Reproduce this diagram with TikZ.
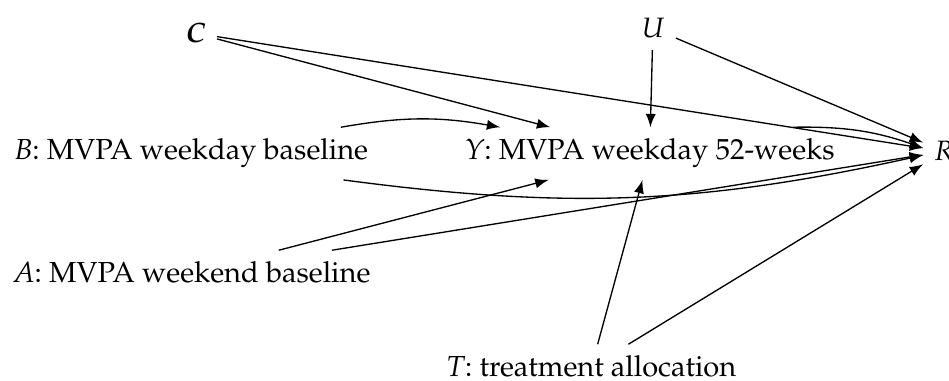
\documentclass[tikz,border=0pt]{standalone}
\usepackage[T1]{fontenc}
\usepackage{mathpazo}
\begin{document}
\begin{tikzpicture}[x=0.3pt,y=-0.3pt,
  lab/.style={font=\fontsize{8.7}{11}\selectfont, anchor=base west, inner sep=0.3333em},
  var/.style={font=\fontsize{8.4}{10}\selectfont, anchor=base west, inner sep=0.3333em},
  arr/.style={-latex}]
\useasboundingbox (0,0) rectangle (949,381);
\node[var] (C) at (174,43) {\textbf{\textit{C}}};
\node[var] (U) at (630,38) {\textit{U}};
\node[var] (R) at (923,161) {\textit{R}};
\node[lab] (B) at (3,160) {\textit{B}: MVPA weekday baseline};
\node[lab] (Y) at (453,160) {\textit{Y}: MVPA weekday 52-weeks};
\node[lab] (A) at (2,283) {\textit{A}: MVPA weekend baseline};
\node[lab] (T) at (435,377) {\textit{T}: treatment allocation};
\draw[arr] (C) -- (Y);
\draw[arr] (C) -- (R);
\draw[arr] (U) -- (Y);
\draw[arr] (U) -- (R);
\draw[arr] (B) to[bend left=10] (Y);
\draw[arr] (B) to[bend right=10] (R);
\draw[arr] (Y) to[bend left=10] (R);
\draw[arr] (A) -- (Y);
\draw[arr] (A) -- (R);
\draw[arr] (T) -- (Y);
\draw[arr] (T) -- (R);
\end{tikzpicture}
\end{document}
